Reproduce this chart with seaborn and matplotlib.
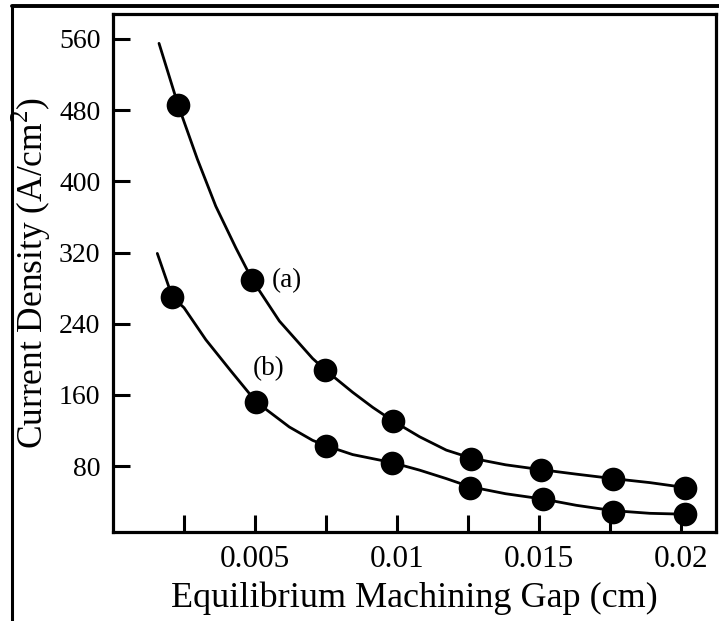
import matplotlib
matplotlib.use("Agg")
import matplotlib.pyplot as plt
import seaborn as sns
import pandas as pd
from matplotlib.lines import Line2D

# ---- data ----
gap_a = [0.00229, 0.00491, 0.00748, 0.00985, 0.01262, 0.01507, 0.01762, 0.02015]
cd_a = [486, 289, 188, 131, 88, 76, 66, 56]
gap_b = [0.00209, 0.00505, 0.00750, 0.00983, 0.01256, 0.01515, 0.01762, 0.02015]
cd_b = [270, 152, 103, 84, 56, 43, 29, 26.5]

# hand-drawn smooth curves
curve_a_x = [0.00162, 0.00229, 0.00297, 0.00362, 0.00433, 0.00491, 0.00586, 0.00703,
             0.00748, 0.00844, 0.00915, 0.00985, 0.0108, 0.01174, 0.01262, 0.01383,
             0.01509, 0.01632, 0.01762, 0.01891, 0.02015]
curve_a_y = [555, 486, 425, 372, 325, 289, 243, 201, 188, 163, 146, 131, 113, 98, 89,
             81.5, 76, 71, 66, 61.5, 56]
curve_b_x = [0.00156, 0.00209, 0.0025, 0.00327, 0.00415, 0.00505, 0.00621, 0.00703,
             0.00750, 0.00844, 0.00983, 0.0108, 0.01174, 0.01256, 0.01383, 0.01515,
             0.01632, 0.01762, 0.01891, 0.02015]
curve_b_y = [319, 270, 258, 222, 187, 152, 124, 109, 103, 93, 84, 75.5, 66, 57, 49,
             43, 36, 30, 27, 26]

x_ticks = [0.0025, 0.005, 0.0075, 0.01, 0.0125, 0.015, 0.0175, 0.02]
x_labels = ["", "0.005", "", "0.01", "", "0.015", "", "0.02"]
y_ticks = [80, 160, 240, 320, 400, 480, 560]
x_title = "Equilibrium Machining Gap (cm)"
y_title = "Current Density (A/cm$^2$)"
series_labels = ["(a)", "(b)"]

sns.set_theme(style="ticks")
plt.rcParams["font.family"] = ["Liberation Serif", "DejaVu Serif"]
plt.rcParams["mathtext.fontset"] = "custom"
plt.rcParams["mathtext.rm"] = "Liberation Serif"
plt.rcParams["text.color"] = "black"
plt.rcParams["axes.labelcolor"] = "black"
plt.rcParams["xtick.color"] = "black"
plt.rcParams["ytick.color"] = "black"

fig = plt.figure(figsize=(7.19, 6.21), dpi=100)
ax = fig.add_axes([0.1572, 0.1433, 0.9958 - 0.1572, 0.9775 - 0.1433])

curves = pd.concat([
    pd.DataFrame({"x": curve_a_x, "y": curve_a_y, "s": "a"}),
    pd.DataFrame({"x": curve_b_x, "y": curve_b_y, "s": "b"}),
])
pts = pd.concat([
    pd.DataFrame({"x": gap_a, "y": cd_a, "s": "a"}),
    pd.DataFrame({"x": gap_b, "y": cd_b, "s": "b"}),
])

sns.lineplot(data=curves, x="x", y="y", units="s", estimator=None, sort=False,
             color="black", linewidth=2.0, ax=ax, legend=False)
sns.scatterplot(data=pts, x="x", y="y", color="black", s=290, edgecolor="black",
                linewidth=0, ax=ax, legend=False, zorder=3)

ax.text(0.00614, 288, series_labels[0], fontsize=19.5, ha="center", va="center",
        color="black")
ax.text(0.00547, 190, series_labels[1], fontsize=19.5, ha="center", va="center",
        color="black")

ax.set_xlim(0, 0.02124)
ax.set_ylim(6, 588)
ax.set_xticks(x_ticks)
ax.set_xticklabels(x_labels)
ax.set_yticks(y_ticks)
ax.tick_params(axis="both", direction="in", length=12, width=2.2, color="black",
               labelcolor="black")
ax.tick_params(axis="x", labelsize=22.5, pad=9)
ax.tick_params(axis="y", labelsize=20, pad=9)
for sp in ax.spines.values():
    sp.set_visible(True)
    sp.set_linewidth(2.3)
    sp.set_color("black")

ax.set_xlabel(x_title, fontsize=26, labelpad=6, color="black")
ax.set_ylabel(y_title, fontsize=25.5, labelpad=4, color="black")

# partial outer frame of the original figure
fig.add_artist(Line2D([12 / 719, 12 / 719], [0, 1 - 6 / 621], transform=fig.transFigure,
                      color="black", linewidth=2.2))
fig.add_artist(Line2D([12 / 719, 1], [1 - 6 / 621, 1 - 6 / 621], transform=fig.transFigure,
                      color="black", linewidth=2.8))

fig.savefig("out.png", dpi=100)
